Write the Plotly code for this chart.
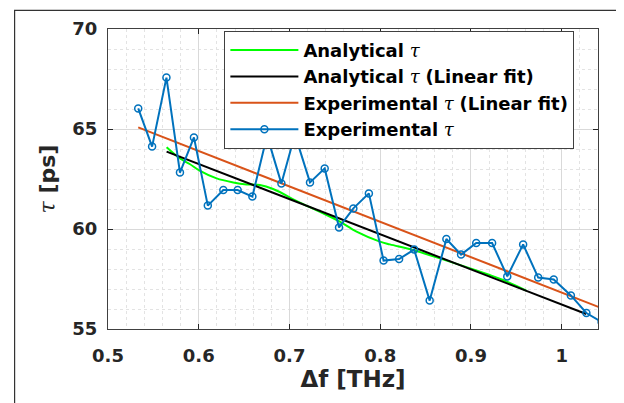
import plotly.graph_objects as go

# Experimental tau (ps) vs delta f (THz)
exp_df = [0.5333, 0.5486, 0.5644, 0.5793, 0.5947, 0.6100, 0.6271, 0.6429, 0.6591,
          0.6753, 0.6911, 0.7060, 0.7226, 0.7388, 0.7546, 0.7704, 0.7875, 0.8037,
          0.8208, 0.8374, 0.8545, 0.8729, 0.8891, 0.9058, 0.9233, 0.9400, 0.9575,
          0.9741, 0.9912, 1.0101, 1.0272, 1.0440]
exp_tau = [66.03, 64.12, 67.57, 62.82, 64.58, 61.17, 61.95, 61.95, 61.62,
           64.67, 62.27, 64.73, 62.33, 63.03, 60.08, 61.03, 61.78, 58.42,
           58.50, 58.97, 56.42, 59.50, 58.72, 59.30, 59.30, 57.63, 59.23,
           57.57, 57.48, 56.68, 55.80, 55.35]

# Analytical tau curve
ana_df = [0.5646, 0.5793, 0.5900, 0.6010, 0.6197, 0.6380, 0.6527, 0.6674, 0.6820,
          0.7115, 0.7409, 0.7555, 0.7739, 0.7996, 0.8106, 0.8363, 0.8656, 0.9207,
          0.9354, 0.9610]
ana_tau = [64.09, 63.53, 63.25, 62.92, 62.53, 62.33, 62.23, 62.20, 62.00,
           61.32, 60.70, 60.37, 59.87, 59.37, 59.23, 58.95, 58.53, 57.70,
           57.45, 56.92]

# Linear fits (end points)
ana_fit_df = [0.5646, 1.0270]
ana_fit_tau = [63.87, 55.75]
exp_fit_df = [0.5333, 1.0408]
exp_fit_tau = [65.08, 56.10]

x_ticks = [0.5, 0.6, 0.7, 0.8, 0.9, 1.0]
x_ticklabels = ["0.5", "0.6", "0.7", "0.8", "0.9", "1"]
y_ticks = [55, 60, 65, 70]

TAU = '<span style="font-family:DejaVu Serif;font-style:italic;font-weight:normal">τ</span>'

fig = go.Figure()
fig.add_trace(go.Scatter(x=ana_df, y=ana_tau, mode="lines",
                         line=dict(color="#00FF00", width=2, shape="spline"),
                         name="<b>Analytical</b> " + TAU))
fig.add_trace(go.Scatter(x=ana_fit_df, y=ana_fit_tau, mode="lines",
                         line=dict(color="#000000", width=2),
                         name="<b>Analytical</b> " + TAU + " <b>(Linear fit)</b>"))
fig.add_trace(go.Scatter(x=exp_fit_df, y=exp_fit_tau, mode="lines",
                         line=dict(color="#D95319", width=2),
                         name="<b>Experimental</b> " + TAU + " <b>(Linear fit)</b>"))
fig.add_trace(go.Scatter(x=exp_df, y=exp_tau, mode="lines+markers",
                         line=dict(color="#0072BD", width=2),
                         marker=dict(symbol="circle-open", size=7, color="#0072BD",
                                     line=dict(width=1.5, color="#0072BD")),
                         name="<b>Experimental</b> " + TAU))

axis_common = dict(
    showline=True, linecolor="#404040", linewidth=1, mirror="ticks",
    ticks="inside", ticklen=5, tickcolor="#262626", tickwidth=1,
    showgrid=True, gridcolor="#d9d9d9", gridwidth=1, zeroline=False,
    tickfont=dict(family="DejaVu Sans", size=18, color="#262626", weight="bold"),
)

fig.update_xaxes(range=[0.5, 1.04], tickvals=x_ticks, ticktext=x_ticklabels,
                 minor=dict(dtick=0.02, tick0=0.5, showgrid=True, gridcolor="#e3e3e3",
                            griddash="dot", ticks=""),
                 title=dict(text="<b>Δf [THz]</b>", standoff=4,
                            font=dict(family="DejaVu Sans", size=23, color="#262626")),
                 ticklabelstandoff=10,
                 **axis_common)
fig.update_yaxes(range=[55, 70], tickvals=y_ticks,
                 minor=dict(dtick=1, tick0=55, showgrid=True, gridcolor="#e3e3e3",
                            griddash="dot", ticks=""),
                 title=dict(text="<b>" + TAU + " [ps]</b>", standoff=10,
                            font=dict(family="DejaVu Sans", size=22, color="#262626")),
                 ticklabelstandoff=6,
                 **axis_common)

# figure frame
fig.add_shape(type="rect", xref="paper", yref="paper",
              x0=-0.1906, y0=-0.5, x1=1.2, y1=1.062,
              line=dict(color="#333333", width=1.2), fillcolor="rgba(0,0,0,0)", layer="above")

# page has an 8px body offset; compensate in margins
fig.update_layout(
    width=624, height=403,
    margin=dict(l=99.5, r=34, t=21, b=82, autoexpand=False),
    paper_bgcolor="white", plot_bgcolor="white",
    font=dict(family="DejaVu Sans", color="#000000"),
    showlegend=True,
    legend=dict(x=0.2375, y=0.994, xanchor="left", yanchor="top",
                bgcolor="white", bordercolor="#404040", borderwidth=1,
                font=dict(family="DejaVu Sans", size=18, color="#000000"),
                itemwidth=68, tracegroupgap=0),
)

fig.write_html("out.html")
